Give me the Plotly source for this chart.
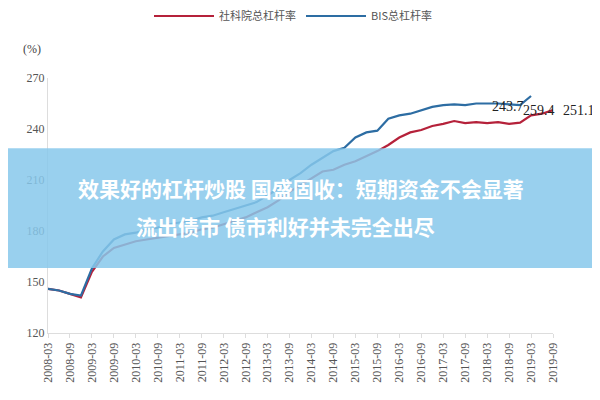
import plotly.graph_objects as go

# quarterly, 2008-03 .. 2019-09
quarters = [f"{y}-{m:02d}" for y in range(2008, 2020) for m in (3, 6, 9, 12)][:47]
tick_labels = [q for q in quarters if q.endswith("-03") or q.endswith("-09")]

bis = [146, 145, 143, 142, 158, 168, 175, 178, 179, 181, 182, 184,
       185, 186, 188, 189, 191, 193, 195, 197, 201, 205, 210, 214,
       219, 223, 227, 229, 235, 238, 239, 246, 248, 249, 251, 253,
       254, 254.5, 254, 255, 255, 255, 254.5, 254, 259.4, None, None]
cass = [146, 145, 143, 141, 156, 165, 170, 172, 174, 175, 176, 177,
        178, 179, 181, 182, 184, 186, 188, 191, 194, 198, 203, 207,
        211, 215, 216, 219, 221, 224, 227, 230.6, 235, 238, 239.4, 241.8,
        243, 244.7, 243.5, 244, 243.5, 244, 243, 243.7, 248, 249, 251.1]

fig = go.Figure()
fig.add_trace(go.Scatter(x=quarters, y=cass, mode="lines", name="社科院总杠杆率",
                         line=dict(color="#b5213a", width=2.2)))
fig.add_trace(go.Scatter(x=quarters, y=bis, mode="lines", name="BIS总杠杆率",
                         line=dict(color="#2d6da3", width=2.2)))

for xq, yv, txt, dx, dy in [(quarters[44], 259.4, "259.4", 8, -14),
                            (quarters[46], 251.1, "251.1", 26, 0),
                            (quarters[43], 243.7, "243.7", -12, 16)]:
    fig.add_annotation(x=xq, y=yv, text=txt, showarrow=False, xshift=dx, yshift=dy,
                       font=dict(family="Liberation Serif", size=14, color="#222"))

fig.add_annotation(xref="paper", yref="paper", x=-0.01, y=1.15, text="(%)", showarrow=False,
                   xanchor="right", font=dict(family="Liberation Serif", size=12, color="#444"))

# overlay banner
fig.add_shape(type="rect", xref="paper", yref="paper", x0=-0.1, x1=1.2, y0=0.255, y1=0.725,
              fillcolor="rgba(135,200,235,0.85)", line_width=0, layer="above")
fig.add_annotation(xref="paper", yref="paper", x=0.5, y=0.57, showarrow=False,
                   text="<b>效果好的杠杆炒股 国盛固收：短期资金不会显著</b>",
                   font=dict(family="Noto Sans CJK SC", size=21, color="white"))
fig.add_annotation(xref="paper", yref="paper", x=0.47, y=0.42, showarrow=False,
                   text="<b>流出债市 债市利好并未完全出尽</b>",
                   font=dict(family="Noto Sans CJK SC", size=21, color="white"))

fig.update_layout(
    width=600, height=400, paper_bgcolor="white", plot_bgcolor="white",
    margin=dict(l=40, r=55, t=70, b=75, autoexpand=False),
    font=dict(family="Liberation Serif", size=12, color="#555"),
    legend=dict(orientation="h", x=0.2, y=1.3, xanchor="left", yanchor="top",
                font=dict(family="Noto Sans CJK SC", size=11, color="#555"),
                itemwidth=60),
    xaxis=dict(type="category", tickmode="array", tickvals=tick_labels, ticktext=tick_labels,
               tickangle=-90, showgrid=False, showline=True, linecolor="#ddd",
               ticks="outside", tickcolor="#ddd", ticklen=4, range=[0, 46]),
    yaxis=dict(range=[120, 270], tickvals=[120, 150, 180, 210, 240, 270],
               showgrid=False, showline=True, linecolor="#ddd", zeroline=False),
)
fig.write_html("out.html")
